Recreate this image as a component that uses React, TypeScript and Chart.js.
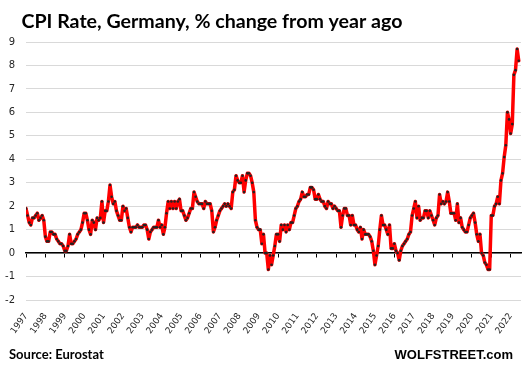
import React, { useEffect, useRef } from "react";
import { Chart, registerables } from "chart.js";

Chart.register(...registerables);

// Germany CPI rate (% change from year ago), monthly from Jan 1997
const START_YEAR = 1997;
const cpi1997to2001 = [
  1.9, 1.6, 1.3, 1.2, 1.5, 1.5, 1.6, 1.7, 1.4, 1.5, 1.6, 1.4,
  0.7, 0.5, 0.5, 0.9, 0.9, 0.8, 0.8, 0.6, 0.5, 0.4, 0.4, 0.3,
  0.1, 0.1, 0.3, 0.8, 0.4, 0.4, 0.5, 0.6, 0.8, 0.9, 1.0, 1.3,
  1.7, 1.7, 1.4, 1.0, 0.8, 1.4, 1.3, 1.0, 1.5, 1.4, 1.5, 2.2,
  1.3, 1.8, 1.8, 2.2, 2.9, 2.4, 2.1, 2.2, 1.8, 1.6, 1.4, 1.4,
];
const cpi2002to2006 = [
  2.0, 1.8, 1.9, 1.5, 1.1, 0.9, 1.1, 1.1, 1.1, 1.2, 1.1, 1.1,
  1.1, 1.2, 1.2, 1.0, 0.6, 0.9, 1.0, 1.1, 1.1, 1.1, 1.4, 1.1,
  1.2, 0.8, 1.1, 1.7, 2.2, 1.9, 2.2, 1.9, 2.2, 1.9, 2.2, 2.3,
  1.8, 1.8, 1.6, 1.4, 1.5, 1.7, 1.9, 1.9, 2.6, 2.4, 2.2, 2.1,
  2.1, 2.1, 1.9, 2.2, 2.1, 2.1, 2.1, 1.8, 0.9, 1.1, 1.4, 1.6,
];
const cpi2007to2011 = [
  1.8, 1.9, 2.0, 2.1, 2.0, 2.1, 2.0, 1.9, 2.6, 2.7, 3.3, 3.1,
  3.0, 3.0, 3.3, 2.6, 3.1, 3.4, 3.4, 3.3, 3.0, 2.6, 1.4, 1.1,
  1.0, 1.0, 0.4, 0.8, 0.0, 0.0, -0.7, -0.1, -0.5, -0.1, 0.3, 0.8,
  0.8, 0.5, 1.2, 1.0, 1.2, 0.9, 1.2, 1.0, 1.3, 1.3, 1.6, 1.9,
  2.0, 2.2, 2.3, 2.6, 2.4, 2.4, 2.5, 2.5, 2.8, 2.8, 2.7, 2.3,
];
const cpi2012to2016 = [
  2.3, 2.5, 2.3, 2.2, 2.2, 2.0, 1.9, 2.2, 2.1, 2.1, 1.9, 2.0,
  1.9, 1.8, 1.8, 1.1, 1.6, 1.9, 1.9, 1.6, 1.6, 1.2, 1.6, 1.2,
  1.2, 1.0, 0.9, 1.1, 0.6, 1.0, 0.8, 0.8, 0.8, 0.7, 0.5, 0.1,
  -0.5, -0.1, 0.3, 1.0, 1.6, 1.2, 1.2, 1.0, 0.8, 1.2, 0.2, 0.2,
  0.4, 0.1, 0.0, -0.3, 0.1, 0.3, 0.4, 0.5, 0.6, 0.8, 0.9, 1.6,
];
const cpi2017to2021 = [
  1.9, 2.2, 1.5, 2.0, 1.4, 1.5, 1.5, 1.8, 1.8, 1.5, 1.8, 1.6,
  1.4, 1.2, 1.5, 1.6, 2.5, 2.1, 2.2, 2.1, 2.2, 2.6, 2.2, 1.7,
  1.7, 1.7, 1.4, 2.1, 1.3, 1.5, 1.1, 1.0, 0.9, 0.9, 1.2, 1.5,
  1.6, 1.7, 1.3, 0.8, 0.5, 0.8, 0.0, -0.1, -0.4, -0.5, -0.7, -0.7,
  1.6, 1.6, 2.0, 2.1, 2.4, 2.1, 3.1, 3.4, 4.1, 4.6, 6.0, 5.7,
];
const cpi2022 = [5.1, 5.5, 7.6, 7.8, 8.7, 8.2];

const yearTicks = [
  1997, 1998, 1999, 2000, 2001, 2002, 2003, 2004, 2005, 2006, 2007, 2008, 2009,
  2010, 2011, 2012, 2013, 2014, 2015, 2016, 2017, 2018, 2019, 2020, 2021, 2022,
];
const yMin = -2;
const yMax = 9;
const xMaxMonths = 306.4;

const titleText = "CPI Rate, Germany, % change from year ago";
const sourceText = "Source: Eurostat";
const brandText = "WOLFSTREET.com";

export default function App() {
  const canvasRef = useRef<HTMLCanvasElement | null>(null);

  useEffect(() => {
    const canvas = canvasRef.current;
    if (!canvas) return;
    const monthly = [
      ...cpi1997to2001,
      ...cpi2002to2006,
      ...cpi2007to2011,
      ...cpi2012to2016,
      ...cpi2017to2021,
      ...cpi2022,
    ];
    const points = monthly.map((v, i) => ({ x: i, y: v }));
    const tickValues = yearTicks.map((y) => (y - START_YEAR) * 12);
    const setYearTicks = (axis: any) => {
      axis.ticks = tickValues.map((v) => ({ value: v }));
    };

    const textPlugin = {
      id: "textOverlay",
      afterDraw(chart: any) {
        const ctx = chart.ctx as CanvasRenderingContext2D;
        ctx.save();
        ctx.fillStyle = "#000";
        ctx.textBaseline = "alphabetic";
        ctx.textAlign = "left";
        ctx.font = "bold 19.6px Lato";
        ctx.fillText(titleText, 21.5, 27.5);
        ctx.font = "bold 13px Lato";
        ctx.fillText(sourceText, 9, 359);
        ctx.textAlign = "right";
        ctx.font = 'bold 13px "Liberation Sans"';
        ctx.fillText(brandText, 513, 358.5);
        ctx.restore();
      },
    };

    const chart = new Chart(canvas, {
      type: "line",
      data: {
        datasets: [
          {
            data: points,
            borderColor: "#ff0000",
            borderWidth: 3.5,
            borderJoinStyle: "round",
            borderCapStyle: "round",
            tension: 0,
            pointRadius: 1.3,
            pointHoverRadius: 1.3,
            pointBackgroundColor: "#222222",
            pointBorderWidth: 0,
          },
        ],
      },
      options: {
        animation: false,
        responsive: false,
        events: [],
        layout: { padding: { left: 0, right: 2, top: 42, bottom: 28 } },
        plugins: {
          legend: { display: false },
          tooltip: { enabled: false },
          title: { display: false },
        },
        scales: {
          x: {
            type: "linear",
            position: { y: 0 },
            min: 0,
            max: xMaxMonths,
            afterBuildTicks: setYearTicks,
            ticks: { display: false },
            grid: {
              display: true,
              drawOnChartArea: false,
              drawTicks: true,
              tickLength: 4,
              color: "#000",
              lineWidth: 1,
            },
            border: { display: true, color: "#000", width: 1.5 },
          },
          x2: {
            type: "linear",
            axis: "x",
            position: "bottom",
            min: 0,
            max: xMaxMonths,
            afterBuildTicks: setYearTicks,
            afterFit: (s: any) => {
              s.height = 40;
            },
            grid: { display: false },
            border: { display: false },
            ticks: {
              autoSkip: false,
              minRotation: 55,
              maxRotation: 55,
              padding: 3,
              color: "#262626",
              font: { family: "DejaVu Sans", size: 9 },
              callback: (v: any) => String(START_YEAR + Math.round(Number(v) / 12)),
            },
          },
          y: {
            type: "linear",
            min: yMin,
            max: yMax,
            afterFit: (s: any) => {
              s.width = 26;
            },
            ticks: {
              stepSize: 1,
              padding: 11,
              color: "#262626",
              font: { family: "DejaVu Sans", size: 10 },
            },
            grid: { color: "#d9d9d9", lineWidth: 1, drawTicks: false },
            border: { display: false },
          },
        },
      } as any,
      plugins: [textPlugin],
    });
    return () => chart.destroy();
  }, []);

  return (
    <div
      style={{
        position: "fixed",
        left: 0,
        top: 0,
        width: 523,
        height: 368,
        background: "#fff",
      }}
    >
      <canvas
        ref={canvasRef}
        width={523}
        height={368}
        style={{ width: 523, height: 368, display: "block" }}
      />
    </div>
  );
}
